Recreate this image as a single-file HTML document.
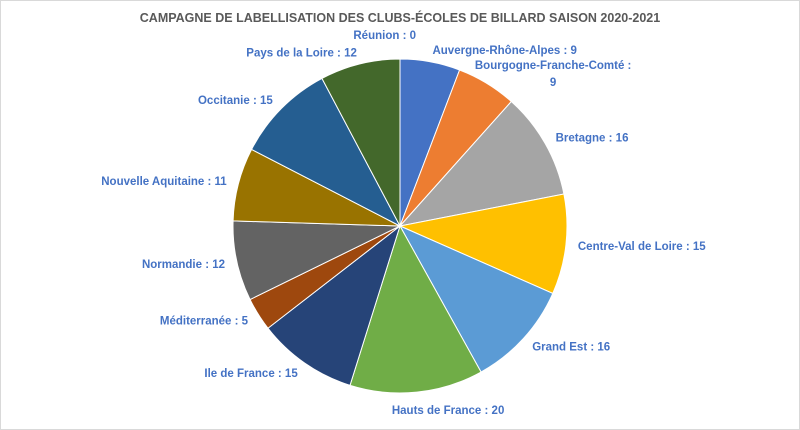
<!DOCTYPE html>
<html><head><meta charset="utf-8"><style>
body{margin:0;background:#fff;}
svg{display:block;font-family:"Liberation Sans",sans-serif;}
</style></head><body>
<svg id="chart" width="800" height="430" viewBox="0 0 800 430">
<rect x="0.5" y="0.5" width="799" height="429" fill="#fff" stroke="#d9d9d9"/>
<text x="400" y="22" text-anchor="middle" font-size="12.5" font-weight="bold" fill="#595959">CAMPAGNE DE LABELLISATION DES CLUBS-ÉCOLES DE BILLARD SAISON 2020-2021</text>
<g id="slices"></g><g id="labels"></g>
</svg>
<script>
const categories=["Réunion","Auvergne-Rhône-Alpes","Bourgogne-Franche-Comté","Bretagne","Centre-Val de Loire","Grand Est","Hauts de France","Ile de France","Méditerranée","Normandie","Nouvelle Aquitaine","Occitanie","Pays de la Loire"];
const values=[0,9,9,16,15,16,20,15,5,12,11,15,12];
const colors=["#4472C4","#4472C4","#ED7D31","#A5A5A5","#FFC000","#5B9BD5","#70AD47","#264478","#9E480E","#636363","#997300","#255E91","#43682B"];
const cx=400,cy=226,r=167,NS="http://www.w3.org/2000/svg";
const total=values.reduce((a,b)=>a+b,0);
const sg=document.getElementById('slices'),lg=document.getElementById('labels');
function pt(a,rad){return [cx+rad*Math.sin(a),cy-rad*Math.cos(a)];}
let cum=0;
values.forEach((v,i)=>{
  const a0=cum/total*2*Math.PI; cum+=v; const a1=cum/total*2*Math.PI;
  if(v>0){
    const p0=pt(a0,r),p1=pt(a1,r),large=(a1-a0)>Math.PI?1:0;
    const path=document.createElementNS(NS,'path');
    path.setAttribute('d',`M${cx},${cy}L${p0[0]},${p0[1]}A${r},${r} 0 ${large} 1 ${p1[0]},${p1[1]}Z`);
    path.setAttribute('fill',colors[i]);path.setAttribute('stroke','#fff');path.setAttribute('stroke-width','1');
    
    
    sg.appendChild(path);
  }
  const am=(a0+a1)/2; const lp=pt(am,r+12);
  const s=Math.sin(am);
  const t=document.createElementNS(NS,'text');
  t.setAttribute('font-size','11.5');t.setAttribute('font-weight','bold');t.setAttribute('fill','#4472C4');
  let anchor=Math.abs(s)<0.15?'middle':(s>0?'start':'end');
  let y=lp[1]+4; if(Math.cos(am)<-0.9) y+=6;
  t.setAttribute('text-anchor',anchor);
  const txt=categories[i]+' : '+values[i];
  if(categories[i]==="Bourgogne-Franche-Comté"){
    t.setAttribute('text-anchor','middle');
    const t1=document.createElementNS(NS,'tspan');t1.setAttribute('x',lp[0]+60);t1.setAttribute('y',y-8);t1.textContent=categories[i]+' :';
    const t2=document.createElementNS(NS,'tspan');t2.setAttribute('x',lp[0]+60);t2.setAttribute('y',y+9);t2.textContent=values[i];
    t.appendChild(t1);t.appendChild(t2);
  } else {
    let x=lp[0]; if(anchor==='middle') x+=30;
    if(categories[i]==="Réunion"){x=lp[0];anchor='end';t.setAttribute('text-anchor','end');x+=16;y-=12;}
    t.setAttribute('x',x);t.setAttribute('y',y);t.textContent=txt;
  }
  
  
  lg.appendChild(t);
});
</script>
</body></html>
